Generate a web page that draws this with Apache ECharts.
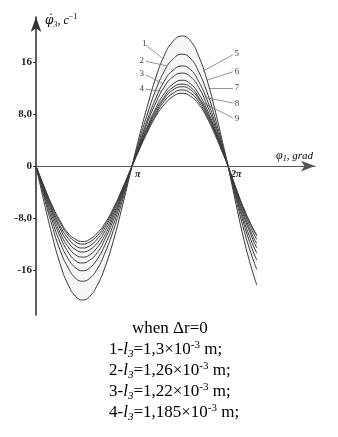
<!DOCTYPE html>
<html>
<head>
<meta charset="utf-8">
<script src="https://cdn.jsdelivr.net/npm/echarts/dist/echarts.min.js"></script>
<style>
html,body{margin:0;padding:0;background:#fff;}
#chart{width:338px;height:437px;}
</style>
</head>
<body>
<div id="chart"></div>
<script>
// x positions (degrees of φ1)
const degrees = [0,15,30,45,60,75,87,100,115,130,145,160,180,195,210,225,240,255,274,290,305,320,335,350,360,375,390,405,414];
// curves 1..9 (values of angular velocity, c^-1)
const curve1 = [0,-5.5,-10.6,-15.0,-18.2,-20.1,-20.6,-20.1,-18.3,-15.4,-11.5,-6.8,0,5.0,9.6,13.7,16.9,19.0,20.0,19.2,16.9,13.4,8.8,3.6,0,-5.9,-11.4,-16.0,-18.3];
const curve2 = [0,-4.7,-9.1,-12.9,-15.6,-17.3,-17.7,-17.3,-15.8,-13.2,-9.9,-5.9,0,4.3,8.3,11.8,14.5,16.3,17.2,16.5,14.5,11.5,7.6,3.1,0,-5.1,-9.9,-13.9,-15.9];
const curve3 = [0,-4.3,-8.3,-11.7,-14.2,-15.7,-16.1,-15.7,-14.3,-12.0,-9.0,-5.3,0,3.8,7.4,10.5,13.0,14.6,15.4,14.8,13.0,10.3,6.8,2.8,0,-4.7,-9.0,-12.7,-14.5];
const curve4 = [0,-4.0,-7.7,-10.8,-13.2,-14.6,-14.9,-14.5,-13.3,-11.1,-8.3,-4.9,0,3.5,6.9,9.8,12.1,13.6,14.3,13.7,12.1,9.5,6.3,2.6,0,-4.3,-8.4,-11.8,-13.4];
const curve5 = [0,-3.7,-7.2,-10.2,-12.4,-13.7,-14.0,-13.7,-12.5,-10.5,-7.8,-4.6,0,3.3,6.3,9.0,11.1,12.5,13.2,12.6,11.1,8.8,5.8,2.4,0,-4.1,-7.8,-11.0,-12.6];
const curve6 = [0,-3.5,-6.8,-9.6,-11.7,-12.9,-13.2,-12.9,-11.8,-9.9,-7.4,-4.4,0,3.1,6.1,8.6,10.6,12.0,12.6,12.1,10.6,8.4,5.6,2.3,0,-3.9,-7.4,-10.5,-11.9];
const curve7 = [0,-3.4,-6.5,-9.2,-11.1,-12.3,-12.6,-12.3,-11.2,-9.4,-7.0,-4.2,0,3.0,5.9,8.3,10.3,11.6,12.2,11.7,10.3,8.1,5.4,2.2,0,-3.6,-7.0,-9.9,-11.3];
const curve8 = [0,-3.2,-6.2,-8.7,-10.6,-11.7,-12.0,-11.7,-10.7,-9.0,-6.7,-4.0,0,2.9,5.6,8.0,9.9,11.1,11.7,11.2,9.9,7.8,5.2,2.1,0,-3.5,-6.7,-9.4,-10.8];
const curve9 = [0,-3.1,-6.0,-8.4,-10.3,-11.3,-11.6,-11.3,-10.3,-8.7,-6.5,-3.8,0,2.8,5.4,7.7,9.4,10.6,11.2,10.7,9.5,7.5,4.9,2.0,0,-3.4,-6.6,-9.3,-10.6];
const curves = [curve1,curve2,curve3,curve4,curve5,curve6,curve7,curve8,curve9];
const curveNames = ['1','2','3','4','5','6','7','8','9'];

// tick labels
const yTickValues = [-16,-8,0,8,16];
const yTickLabels = ['-16','-8,0','0','8,0','16'];
const xTickValues = [180,360];
const xTickLabels = ['π','2π'];

// leader lines for curve numbers: [label-end point, curve-end point] in data units
const leaderStart = [[206,18.6],[206,16.1],[206,14.0],[206,11.8],[369,17.1],[369,14.5],[369,12.0],[369,9.7],[369,7.4]];
const leaderEnd   = [[238,16.5],[246,15.4],[238,12.7],[236,11.5],[313,14.6],[320,13.2],[324,12.0],[320,10.5],[307,10.0]];

// caption lines
const captionLines = [
  '{n|when Δr=0}',
  '{n|1-}{i|l}{sub|3}{n|=1,3×10}{sup|-3}{n| m;}',
  '{n|2-}{i|l}{sub|3}{n|=1,26×10}{sup|-3}{n| m;}',
  '{n|3-}{i|l}{sub|3}{n|=1,22×10}{sup|-3}{n| m;}',
  '{n|4-}{i|l}{sub|3}{n|=1,185×10}{sup|-3}{n| m;}'
];

const SERIF = 'Liberation Serif';
const Y_MIN = -22.9, Y_MAX = 22.92;
const GRID_TOP = 17, GRID_BOTTOM = 122, CHART_H = 437;
const gridH = CHART_H - GRID_TOP - GRID_BOTTOM;
const xAxisOffset = -(0 - Y_MIN) / (Y_MAX - Y_MIN) * gridH;

const chart = echarts.init(document.getElementById('chart'), null, {renderer:'canvas'});

const series = curves.map((c, idx) => {
  const s = {
    type: 'line',
    name: curveNames[idx],
    data: degrees.map((d, k) => [d, c[k]]),
    smooth: 0.5,
    symbol: 'none',
    animation: false,
    lineStyle: {color: '#3a3a3a', width: 1},
    markLine: {
      silent: true,
      animation: false,
      symbol: ['none','none'],
      lineStyle: {color: '#666', width: 0.7, type: 'solid'},
      label: {show: true, position: 'start', distance: 2, formatter: curveNames[idx],
              fontFamily: SERIF, fontSize: 9, color: '#444'},
      data: [[{coord: leaderStart[idx]}, {coord: leaderEnd[idx]}]]
    }
  };
  if (idx === 0) s.areaStyle = {color: '#f6f6f6', opacity: 1};
  if (idx === curves.length - 1) s.areaStyle = {color: '#ffffff', opacity: 1};
  return s;
});

const captionGraphics = captionLines.map((t, i) => ({
  type: 'text',
  x: i === 0 ? 132 : 109,
  y: 329 + i * 21,
  style: {
    text: t,
    align: 'left',
    verticalAlign: 'middle',
    rich: {
      n: {fontFamily: SERIF, fontSize: 17, color: '#111', lineHeight: 20},
      i: {fontFamily: SERIF, fontSize: 17, fontStyle: 'italic', color: '#111', lineHeight: 20},
      sub: {fontFamily: SERIF, fontSize: 11, fontStyle: 'italic', color: '#111', lineHeight: 12, verticalAlign: 'bottom'},
      sup: {fontFamily: SERIF, fontSize: 11, color: '#111', lineHeight: 12, verticalAlign: 'top'}
    }
  }
}));

chart.setOption({
  backgroundColor: '#fff',
  animation: false,
  grid: {left: 36, right: 23, top: GRID_TOP, bottom: GRID_BOTTOM, containLabel: false},
  xAxis: {
    type: 'value', min: 0, max: 523, z: 10,
    offset: xAxisOffset,
    axisLine: {show: true, onZero: false, symbol: ['none','arrow'], symbolSize: [8,14],
               lineStyle: {color: '#555', width: 1.2}},
    axisTick: {show: false},
    splitLine: {show: false},
    axisLabel: {
      show: true, customValues: xTickValues, margin: 3, align: 'left', padding: [0,0,0,3],
      formatter: v => xTickLabels[xTickValues.indexOf(v)] || '',
      fontFamily: SERIF, fontSize: 10, fontWeight: 'bold', fontStyle: 'italic', color: '#222'
    }
  },
  yAxis: {
    type: 'value', min: Y_MIN, max: Y_MAX, z: 10,
    axisLine: {show: true, onZero: false, symbol: ['none','arrow'], symbolSize: [8,15],
               lineStyle: {color: '#333', width: 1.6}},
    axisTick: {show: true, customValues: yTickValues, length: 3, lineStyle: {color: '#333', width: 1}},
    splitLine: {show: false},
    axisLabel: {
      show: true, customValues: yTickValues, margin: 4,
      formatter: v => yTickLabels[yTickValues.indexOf(v)] || '',
      fontFamily: SERIF, fontSize: 11, fontWeight: 'bold', color: '#222'
    }
  },
  series: series,
  graphic: [
    {
      type: 'text', x: 45, y: 21,
      style: {
        text: '{p|φ̇}{s|3}{n|, c}{sp|−1}', align: 'left', verticalAlign: 'middle',
        rich: {
          p: {fontFamily: 'DejaVu Serif', fontSize: 12, fontStyle: 'italic', color: '#444', lineHeight: 16},
          s: {fontFamily: SERIF, fontSize: 8, fontStyle: 'italic', color: '#444', lineHeight: 9, verticalAlign: 'bottom'},
          n: {fontFamily: SERIF, fontSize: 12, fontStyle: 'italic', color: '#444', lineHeight: 16},
          sp: {fontFamily: SERIF, fontSize: 8, color: '#444', lineHeight: 9, verticalAlign: 'top'}
        }
      }
    },
    {
      type: 'text', x: 276, y: 156,
      style: {
        text: '{p|φ}{s|1}{n|, grad}', align: 'left', verticalAlign: 'middle',
        rich: {
          p: {fontFamily: SERIF, fontSize: 12, fontStyle: 'italic', color: '#444', lineHeight: 14},
          s: {fontFamily: SERIF, fontSize: 8, fontStyle: 'italic', color: '#444', lineHeight: 9, verticalAlign: 'bottom'},
          n: {fontFamily: SERIF, fontSize: 11, fontStyle: 'italic', color: '#444', lineHeight: 14}
        }
      }
    }
  ].concat(captionGraphics)
});
</script>
</body>
</html>
